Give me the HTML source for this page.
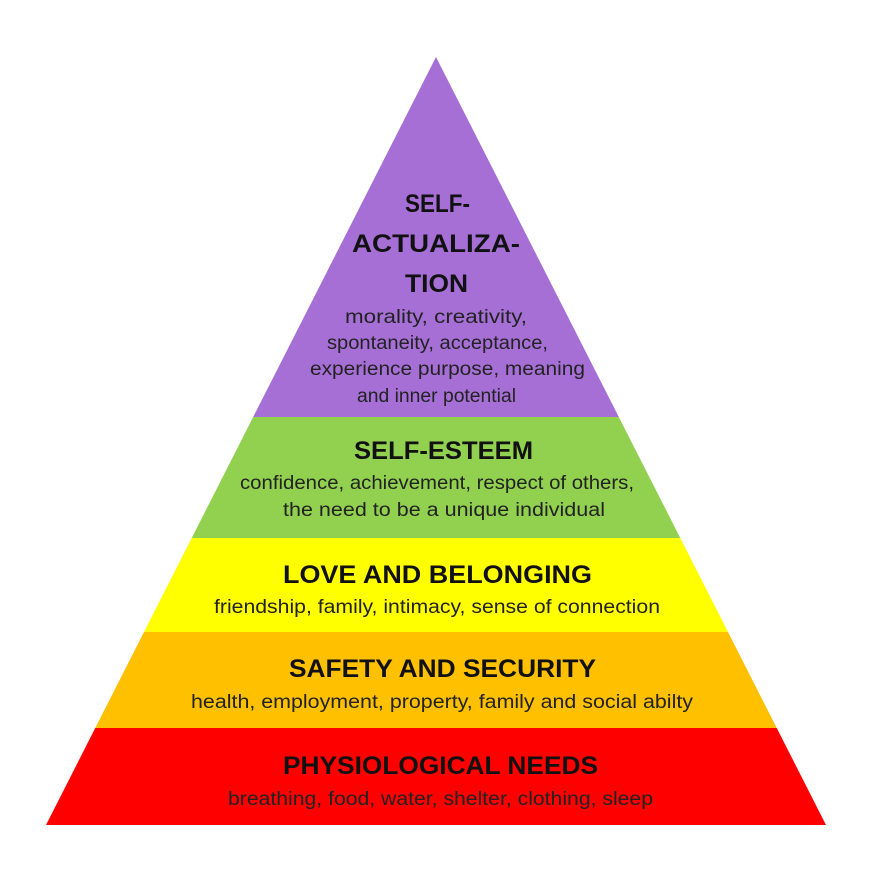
<!DOCTYPE html>
<html><head><meta charset="utf-8"><style>html,body{margin:0;padding:0;background:#fff}svg{display:block}</style></head>
<body>
<svg width="876" height="876" viewBox="0 0 876 876" xmlns="http://www.w3.org/2000/svg">
<defs><clipPath id="tri"><polygon points="436,57 46,825 826,825"/></clipPath></defs>
<g clip-path="url(#tri)">
<rect x="0" y="0" width="876" height="417" fill="#a66fd6"/>
<rect x="0" y="417" width="876" height="121" fill="#92d050"/>
<rect x="0" y="538" width="876" height="94" fill="#ffff00"/>
<rect x="0" y="632" width="876" height="96" fill="#ffc000"/>
<rect x="0" y="728" width="876" height="97" fill="#ff0000"/>
</g>
<g font-family="Liberation Sans, sans-serif" fill="#111" text-anchor="start">
<g font-weight="bold" font-size="25">
<text x="405" y="212" textLength="65" lengthAdjust="spacingAndGlyphs">SELF-</text>
<text x="352" y="252" textLength="168" lengthAdjust="spacingAndGlyphs">ACTUALIZA-</text>
<text x="405" y="292" textLength="63" lengthAdjust="spacingAndGlyphs">TION</text>
<text x="354" y="459" textLength="179" lengthAdjust="spacingAndGlyphs">SELF-ESTEEM</text>
<text x="283" y="583" textLength="309" lengthAdjust="spacingAndGlyphs">LOVE AND BELONGING</text>
<text x="289" y="677" textLength="307" lengthAdjust="spacingAndGlyphs">SAFETY AND SECURITY</text>
<text x="283" y="774" textLength="315" lengthAdjust="spacingAndGlyphs">PHYSIOLOGICAL NEEDS</text>
</g>
<g font-size="19" fill="#222">
<text x="345" y="323" textLength="182" lengthAdjust="spacingAndGlyphs">morality, creativity,</text>
<text x="327" y="349" textLength="221" lengthAdjust="spacingAndGlyphs">spontaneity, acceptance,</text>
<text x="310" y="375" textLength="275" lengthAdjust="spacingAndGlyphs">experience purpose, meaning</text>
<text x="357" y="402" textLength="159" lengthAdjust="spacingAndGlyphs">and inner potential</text>
<text x="240" y="489" textLength="394" lengthAdjust="spacingAndGlyphs">confidence, achievement, respect of others,</text>
<text x="283" y="516" textLength="322" lengthAdjust="spacingAndGlyphs">the need to be a unique individual</text>
<text x="214" y="613" textLength="446" lengthAdjust="spacingAndGlyphs">friendship, family, intimacy, sense of connection</text>
<text x="191" y="708" textLength="502" lengthAdjust="spacingAndGlyphs">health, employment, property, family and social abilty</text>
<text x="228" y="805" textLength="425" lengthAdjust="spacingAndGlyphs">breathing, food, water, shelter, clothing, sleep</text>
</g>
</g>
</svg>
</body></html>
